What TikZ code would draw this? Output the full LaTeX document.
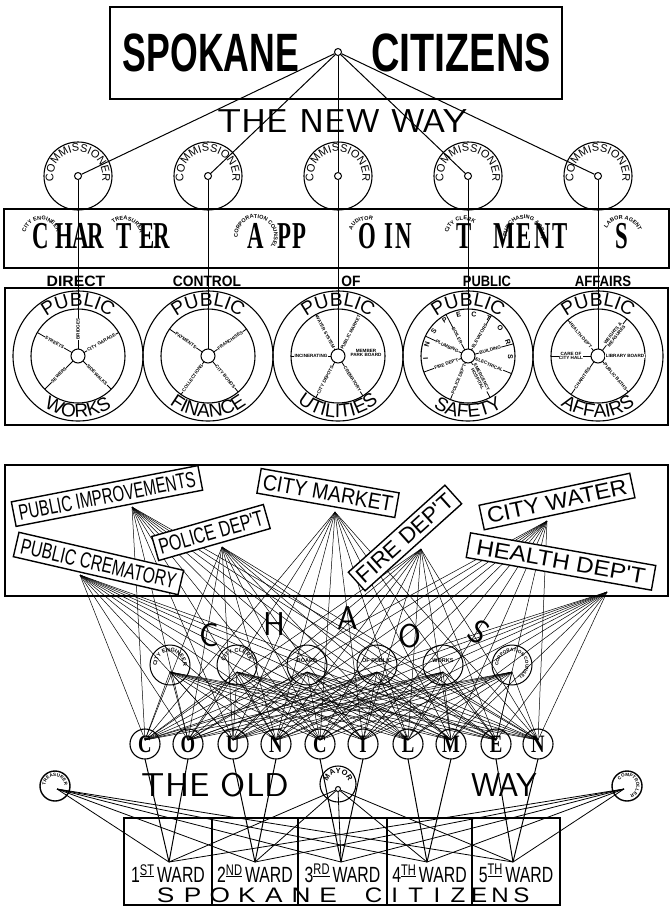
\documentclass[tikz,border=0pt]{standalone}
\usepackage{fontspec}
\usepackage{graphicx}
\newfontfamily\lsans{Liberation Sans}
\newfontfamily\lserif{Liberation Serif}
\usetikzlibrary{decorations.text}
\newcommand\fComm{\lsans\fontsize{11}{11}\selectfont}
\newcommand\fTiny{\lsans\bfseries\fontsize{5.5}{5.5}\selectfont}
\newcommand\fTinier{\lsans\bfseries\fontsize{4.6}{4.6}\selectfont}
\newcommand\fRing{\lsans\fontsize{19}{19}\selectfont}
\newcommand\fInsp{\lsans\bfseries\fontsize{7}{7}\selectfont}
\newcommand\fMay{\lsans\bfseries\fontsize{7.5}{7.5}\selectfont}
\newcommand\arctext[6]{\path[decorate,decoration={text along path,text align=center,text={|#5|#6}}] (#1) ++(#3:#2) arc[start angle=#3,end angle=#4,radius=#2];}
\newcommand\spk[4]{\draw[spoke] ([shift={(#2:7)}]#1,-356) -- ([shift={(#2:47)}]#1,-356) node[spklab,sloped,pos=#4] {#3};}
\begin{document}
\begin{tikzpicture}[x=1pt,y=1pt,
 frame/.style={draw,line width=1.7pt,inner sep=0pt},
 ring/.style={draw,circle,inner sep=0pt,line width=1.1pt},
 hubc/.style={draw,circle,fill=white,inner sep=0pt,line width=1pt},
 conn/.style={line width=1pt},
 web/.style={line width=0.5pt},
 spoke/.style={line width=0.8pt},
 spklab/.style={font=\fTinier,fill=white,inner sep=0.3pt,align=center},
 dept/.style={draw,fill=white,line width=1.4pt,inner sep=0pt,minimum height=25pt,font=\lsans\fontsize{22}{22}\selectfont},
 bigl/.style={inner sep=0pt,font=\lserif\bfseries\fontsize{38}{38}\selectfont},
 ltext/.style={inner sep=0pt,font=\sffamily\fontsize{33}{33}\selectfont},
 coun/.style={draw,circle,inner sep=0pt,minimum size=30pt,line width=1.1pt},
 counl/.style={inner sep=0pt,font=\lserif\bfseries\fontsize{25}{25}\selectfont},
 wardt/.style={inner sep=0pt,font=\lsans\fontsize{22}{22}\selectfont},
 botl/.style={inner sep=0pt,font=\lsans\fontsize{21}{21}\selectfont},
 dirt/.style={inner sep=0pt,font=\lsans\bfseries\fontsize{15}{15}\selectfont}
]
\fill[white] (0,0) rectangle (670,-908);
\useasboundingbox (0,0) rectangle (670,-908);

% ================= THE NEW WAY =================
\node[frame,minimum width=452pt,minimum height=92pt] (topbox) at (336,-53) {};
\node[inner sep=0pt,font=\lsans\bfseries\fontsize{54}{54}\selectfont] (spokT) at (211,-52.5) {\scalebox{0.66}[1]{SPOKANE}};
\node[inner sep=0pt,font=\lsans\bfseries\fontsize{54}{54}\selectfont] (citT) at (461,-52.5) {\scalebox{0.73}[1]{CITIZENS}};
\node[hubc,minimum size=7pt] (tophub) at (338,-52) {};
\node[ltext] (newway) at (342,-121) {\scalebox{1.15}[1]{THE NEW WAY}};

\foreach \i/\x in {1/78,2/208,3/338,4/468,5/598}{
  \node[ring,minimum size=68pt] (comm\i) at (\x,-176) {};
  \node[hubc,minimum size=7pt] (ch\i) at (\x,-176) {};
  \arctext{\x,-176}{24.5}{218}{-38}{\fComm}{COMMISSIONER}
  \node[hubc,minimum size=14pt] (wh\i) at (\x,-356) {};
}
\foreach \i in {1,...,5}{
  \draw[conn] (tophub) -- (ch\i);
  \draw[conn] (ch\i) -- (wh\i);
}

% charter appointments
\node[frame,minimum width=665pt,minimum height=59pt] (charter) at (336.5,-238.5) {};
\foreach \l/\x [count=\n] in {C/41,H/64,A/81,R/96,T/124,E/147,R/162,A/256,P/284,P/299,O/367,I/389,N/404,T/464,M/504,E/524,N/543,T/560,S/622}
  \node[bigl] (cl\n) at (\x,-236) {\scalebox{0.6}[1]{\l}};
\arctext{41,-236}{16}{225}{-45}{\fTiny}{CITY ENGINEER}
\arctext{124,-236}{16}{200}{-60}{\fTiny}{TREASURER}
\arctext{256,-236}{18}{235}{-85}{\fTiny}{CORPORATION COUNSEL}
\arctext{367,-236}{16}{190}{40}{\fTiny}{AUDITOR}
\arctext{464,-236}{16}{200}{20}{\fTiny}{CITY CLERK}
\arctext{524,-236}{17}{235}{-65}{\fTiny}{PURCHASING AGENT}
\arctext{622,-236}{17}{200}{-30}{\fTiny}{LABOR AGENT}

\node[dirt] (dr1) at (76,-281) {\scalebox{1.05}[1]{DIRECT}};
\node[dirt] (dr2) at (207,-281) {\scalebox{0.92}[1]{CONTROL}};
\node[dirt] (dr3) at (351,-281) {\scalebox{0.92}[1]{OF}};
\node[dirt] (dr4) at (487,-281) {\scalebox{0.86}[1]{PUBLIC}};
\node[dirt] (dr5) at (603,-281) {\scalebox{0.88}[1]{AFFAIRS}};

% wheels
\node[frame,minimum width=663pt,minimum height=137pt] (wheelbox) at (336.5,-356.5) {};
\foreach \i/\x in {1/78,2/208,3/338,4/468,5/598}{
  \node[ring,minimum size=130pt] (wo\i) at (\x,-356) {};
  \node[ring,minimum size=94pt] (wi\i) at (\x,-356) {};
  \arctext{\x,-356}{50}{150}{30}{\fRing}{PUBLIC}
}
\arctext{78,-356}{61.5}{205}{335}{\fRing}{WORKS}
\arctext{208,-356}{61.5}{205}{335}{\fRing}{FINANCE}
\arctext{338,-356}{61.5}{205}{335}{\fRing}{UTILITIES}
\arctext{468,-356}{61.5}{205}{335}{\fRing}{SAFETY}
\arctext{598,-356}{61.5}{205}{335}{\fRing}{AFFAIRS}

\spk{78}{90}{BRIDGES}{0.5}
\spk{78}{150}{STREETS}{0.5}
\spk{78}{30}{CITY GARAGE}{0.5}
\spk{78}{225}{SEWERS}{0.5}
\spk{78}{-45}{SIDEWALKS}{0.5}

\spk{208}{145}{PAYMENTS}{0.5}
\spk{208}{35}{FRANCHISES}{0.5}
\spk{208}{235}{COLLECTIONS}{0.5}
\spk{208}{-50}{CITY BONDS}{0.5}

\spk{338}{118}{WATER SYSTEM}{0.5}
\spk{338}{62}{PUBLIC MARKET}{0.5}
\spk{338}{180}{INCINERATING}{0.5}
\spk{338}{242}{CITY DEPOTS}{0.5}
\spk{338}{-58}{CREMATORY}{0.5}
\node[spklab,fill=none] (park) at (366,-353) {MEMBER\\PARK BOARD};

\spk{468}{118}{BOILER}{0.4}
\spk{468}{155}{PLUMBING}{0.4}
\spk{468}{200}{FIRE DEP'T}{0.4}
\spk{468}{248}{POLICE DEP'T}{0.45}
\spk{468}{-62}{EMERGENCY\\HOSPITAL}{0.45}
\spk{468}{-22}{ELECTRICAL}{0.4}
\spk{468}{15}{BUILDING}{0.4}
\spk{468}{60}{ELEVATORS}{0.4}
\path[decorate,decoration={text along path,text align=fit to path,text={|\fInsp|I N S P E C T O R S}}] (468,-356) ++(185:40) arc[start angle=185,end angle=-5,radius=40];

\spk{598}{130}{HEALTH DEP'T}{0.5}
\spk{598}{180}{CARE OF\\CITY HALL}{0.5}
\spk{598}{235}{CHARITIES}{0.5}
\spk{598}{-50}{PUBLIC BATHS}{0.5}
\spk{598}{0}{LIBRARY BOARD}{0.5}
\spk{598}{52}{WEIGHTS \&\\MEASURES}{0.5}

% ================= THE OLD WAY =================
\node[frame,minimum width=663pt,minimum height=131pt] (lowbox) at (336.5,-530.5) {};
\coordinate (d1) at (132,-507);
\coordinate (d2) at (335,-512);
\coordinate (d3) at (547,-521);
\coordinate (d4) at (222,-547);
\coordinate (d5) at (80,-575);
\coordinate (d6) at (421,-549);
\coordinate (d7) at (607,-592);
\foreach \i/\x in {1/170,2/237,3/307,4/377,5/443,6/512}{
  \node[ring,minimum size=40pt,line width=1pt] (ca\i) at (\x,-665) {};
  \coordinate (h\i) at (\x,-672);
}
\foreach \l/\x [count=\i] in {C/145,O/188,U/233,N/276,C/320,I/363,L/408,M/451,E/496,N/538}{
  \coordinate (k\i) at (\x,-740);
  \coordinate (kb\i) at (\x,-759);
}
\foreach \d in {1,...,7}{\foreach \k in {1,...,10}{\draw[web] (d\d) -- (k\k);}}
\foreach \h in {1,...,6}{\foreach \k in {1,...,10}{\draw[web] (h\h) -- (k\k);}}

\foreach \l/\x [count=\i] in {C/145,O/188,U/233,N/276,C/320,I/363,L/408,M/451,E/496,N/538}{
  \node[coun] (cm\i) at (\x,-744) {};
  \node[counl] (cml\i) at (\x,-744) {\scalebox{0.75}[1]{\l}};
}

\node[dept,minimum width=190pt,rotate=11] (pi) at (107,-496) {\scalebox{0.68}[1]{PUBLIC IMPROVEMENTS}};
\node[dept,minimum width=140pt,rotate=-10] (cmk) at (328,-493) {\scalebox{0.89}[1]{CITY MARKET}};
\node[dept,minimum width=154pt,rotate=12] (cw) at (557,-501.5) {\scalebox{1.07}[1]{CITY WATER}};
\node[dept,minimum width=116pt,rotate=16] (pol) at (211,-532.5) {\scalebox{0.72}[1]{POLICE DEP'T}};
\node[dept,minimum width=169pt,rotate=-13] (cre) at (98.5,-563.5) {\scalebox{0.71}[1]{PUBLIC CREMATORY}};
\node[dept,minimum width=130pt,rotate=42] (fir) at (405,-538) {\scalebox{1.02}[1]{FIRE DEP'T}};
\node[dept,minimum width=188pt,rotate=-10] (hea) at (561,-561.5) {\scalebox{1.11}[1]{HEALTH DEP'T}};

% chaos
\node[ltext] (chC) at (209,-635) {C};
\node[ltext] (chH) at (274,-624) {H};
\node[ltext] (chA) at (348,-618) {A};
\node[ltext] (chO) at (410,-636) {O};
\node[ltext,rotate=-35] (chS) at (479,-632) {S};
\arctext{170,-665}{13}{215}{-35}{\fTiny}{CITY ENGINEER}
\arctext{237,-665}{13}{200}{-20}{\fTiny}{CITY CLERK}
\node[inner sep=0pt,font=\fTiny] (cb3) at (307,-661) {BOARD};
\node[inner sep=0pt,font=\fTiny] (cb4) at (377,-661) {OF PUBLIC};
\node[inner sep=0pt,font=\fTiny] (cb5) at (443,-661) {WORKS};
\arctext{512,-665}{13.5}{200}{-80}{\fTinier}{CORPORATION COUNSEL}

% mayor, treasurer, comptroller
\node[ring,minimum size=36pt] (mayor) at (338,-784) {};
\arctext{338,-784}{10.5}{175}{5}{\fMay}{MAYOR}
\node[hubc,minimum size=5pt] (mh) at (338,-789) {};
\node[ring,minimum size=30pt,line width=1.4pt] (treas) at (55,-786) {};
\arctext{55,-786}{9.5}{200}{-20}{\fTinier}{TREASURER}
\coordinate (tr) at (57,-789);
\node[ring,minimum size=30pt,line width=1.4pt] (compt) at (627,-786) {};
\arctext{627,-786}{9.5}{170}{-100}{\fTinier}{COMPTROLLER}
\coordinate (cp) at (624,-789);

\node[ltext] (old1) at (215.5,-785) {\scalebox{1.1}[1]{THE OLD}};
\node[ltext] (old2) at (504.5,-785) {WAY};

% wards
\foreach \i/\x in {1/169,2/255,3/341,4/427,5/513} \coordinate (w\i) at (\x,-862);
\draw[conn] (kb1) -- (w1); \draw[conn] (kb2) -- (w1);
\draw[conn] (kb3) -- (w2); \draw[conn] (kb4) -- (w2);
\draw[conn] (kb5) -- (w3); \draw[conn] (kb6) -- (w3);
\draw[conn] (kb7) -- (w4); \draw[conn] (kb8) -- (w4);
\draw[conn] (kb9) -- (w5); \draw[conn] (kb10) -- (w5);
\foreach \w in {1,...,5}{
  \draw[line width=0.8pt] (mh) -- (w\w);
  \draw[line width=0.8pt] (tr) -- (w\w);
  \draw[line width=0.8pt] (cp) -- (w\w);
}
\node[frame,minimum width=436pt,minimum height=87pt] (wardbox) at (342,-861.5) {};
\foreach \x in {212,298,387,472} \draw[line width=1.3pt] (\x,-818) -- (\x,-905);
\foreach \t/\s/\x [count=\n] in {1/ST/168,2/ND/255,3/RD/342.5,4/TH/429.5,5/TH/516}
  \node[wardt] (wt\n) at (\x,-873.5) {\scalebox{0.72}[1]{\t\textsuperscript{\underline{\s}}\,WARD}};
\foreach \l [count=\n] in {S,P,O,K,A,N,E}
  \node[botl] (bs\n) at ({165.6+27.1*(\n-1)},-895) {\scalebox{1.25}[1]{\l}};
\foreach \l [count=\n] in {C,I,T,I,Z,E,N,S}
  \node[botl] (bc\n) at ({373.6+21.1*(\n-1)},-895) {\scalebox{1.15}[1]{\l}};
\end{tikzpicture}
\end{document}
